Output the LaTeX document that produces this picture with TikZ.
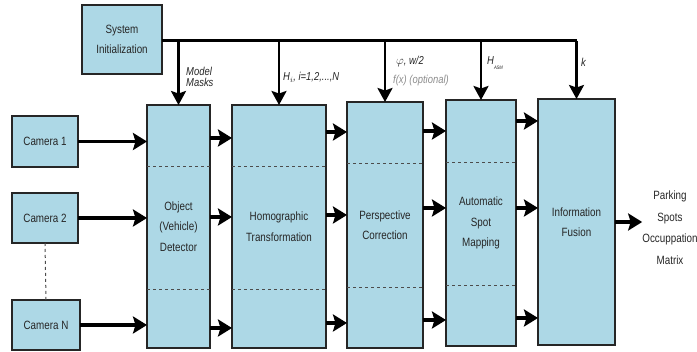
\documentclass[tikz,border=0pt]{standalone}
\usepackage{fontspec}
\setmainfont{Liberation Sans}[FakeStretch=0.82]
\usetikzlibrary{arrows.meta}
\definecolor{boxblue}{RGB}{173,216,230}
\definecolor{lblgray}{RGB}{140,140,140}
\begin{document}
\begin{tikzpicture}[x=1pt,y=-1pt,
  blk/.style={draw=black!85,line width=1.8pt,fill=boxblue,inner sep=0pt,outer sep=0pt,
    align=center,font=\fontsize{12}{20.5}\selectfont,text=black!85},
  flow/.style={line width=3.5pt,-{Stealth[length=14pt,width=17pt,inset=2.5pt]}},
  drop/.style={line width=2.5pt,-{Stealth[length=14pt,width=15pt,inset=2.5pt]}},
  sep/.style={dashed,line width=0.9pt,black!70,dash pattern=on 3pt off 3pt},
  lbl/.style={font=\fontsize{11.5}{11.5}\selectfont\itshape,anchor=west,inner sep=0pt,text=black!85}]
\useasboundingbox (0,0) rectangle (697,352);
% boxes
\node[blk,minimum width=80pt,minimum height=69pt] (sys) at (122,39.5) {System\\Initialization};
\node[blk,minimum width=63pt,minimum height=243pt] (det) at (178.5,226.5) {Object\\(Vehicle)\\Detector};
\node[blk,minimum width=94pt,minimum height=243pt] (hom) at (279,226.5) {Homographic\\Transformation};
\node[blk,minimum width=76pt,minimum height=246pt] (per) at (385,225) {Perspective\\Correction};
\node[blk,minimum width=70pt,minimum height=246pt] (asm) at (481,223) {Automatic\\Spot\\Mapping};
\node[blk,minimum width=77pt,minimum height=246pt] (fus) at (576.5,222) {Information\\Fusion};
\node[blk,minimum width=66pt,minimum height=51pt] (cam1) at (45,141.5) {Camera 1};
\node[blk,minimum width=66pt,minimum height=50pt] (cam2) at (45,218) {Camera 2};
\node[blk,minimum width=68pt,minimum height=50pt] (camN) at (46,325) {Camera N};
\node[align=center,inner sep=0pt,font=\fontsize{12}{21.5}\selectfont,text=black!85] (out) at (670,227.5) {Parking\\Spots\\Occuppation\\Matrix};
% dashed separators
\foreach \b/\ya/\yb in {det/166/289,hom/166/289,per/163/287,asm/162/285}{
  \draw[sep] (\b.west |- 0,\ya) -- (\b.east |- 0,\ya);
  \draw[sep] (\b.west |- 0,\yb) -- (\b.east |- 0,\yb);
}
\draw[sep,line width=1pt] (cam2.south) -- (camN.north);
% bus
\coordinate (busend) at (577,41);
\draw[line width=3pt] (sys.east |- busend) -- (busend);
\foreach \b in {det,hom,per,asm,fus}{
  \draw[drop] (\b.north |- busend) -- (\b.north);
}
% camera arrows
\draw[flow] (cam1.east) -- (cam1.east -| det.west);
\draw[flow] (cam2.east) -- (cam2.east -| det.west);
\draw[flow] (camN.east) -- (camN.east -| det.west);
% between blocks
\foreach \a/\b/\ya/\yb/\yc in {det/hom/138/217/328,hom/per/132/215/323,per/asm/131/208/320,asm/fus/121/208/318}{
  \draw[flow] (\a.east |- 0,\ya) -- (\b.west |- 0,\ya);
  \draw[flow] (\a.east |- 0,\yb) -- (\b.west |- 0,\yb);
  \draw[flow] (\a.east |- 0,\yc) -- (\b.west |- 0,\yc);
}
\draw[flow] (fus.east |- 0,222) -- (out.west |- 0,222);
% labels
\node[lbl,align=left] (lmm) at (186,77) {Model\\Masks};
\node[lbl] (lh) at (283,77) {H$_{i}$, i=1,2,...,N};
\node[lbl] (lphi) at (396,62) {$\varphi$, w/2};
\node[lbl,text=lblgray] (lf) at (393,81) {f(x) (optional)};
\node[lbl] (lasm) at (487,63) {H\raisebox{-5pt}{\fontsize{5}{5}\selectfont ASM}};
\node[lbl] (lk) at (581,62) {k};
\end{tikzpicture}
\end{document}
